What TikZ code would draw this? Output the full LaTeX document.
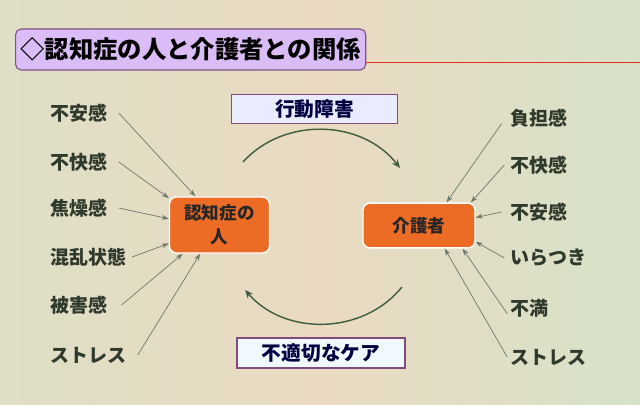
\documentclass[tikz,border=0pt]{standalone}
\usepackage{fontspec}
\setmainfont{Noto Sans CJK JP}
\usetikzlibrary{arrows.meta}

\definecolor{slidebg}{RGB}{234,218,194}
\definecolor{slidegreen}{RGB}{214,226,200}
\definecolor{labeltext}{RGB}{48,58,44}
\definecolor{arrowgray}{RGB}{110,120,105}
\definecolor{titlefill}{RGB}{218,188,246}
\definecolor{boxorange}{RGB}{236,108,38}

\tikzset{
  feeling/.style={anchor=west, text=labeltext, font=\fontsize{13.5}{15}\selectfont\bfseries, inner sep=0pt},
  feed/.style={draw=arrowgray, line width=0.5pt, -{Stealth[length=5pt,width=3.5pt]}},
  actor/.style={draw=white, line width=1pt, fill=boxorange, rounded corners=5pt, align=center,
    text=black!85, font=\fontsize{12.5}{17}\selectfont\bfseries},
  relation/.style={draw=violet!40!gray, line width=0.8pt, align=center, text=blue!25!black,
    font=\fontsize{14}{16}\selectfont\bfseries},
  cycle/.style={draw=green!15!black!75, line width=1pt, -{Stealth[length=6pt,width=5pt]}}
}

\begin{document}
\begin{tikzpicture}[x=0.025cm, y=-0.025cm]
      % Slide background
      \useasboundingbox (0,0) rectangle (640,405);
      \shade[left color=slidegreen!60!slidebg, right color=slidegreen, middle color=slidebg]
        (0,0) rectangle (640,405);

      % Title
      \node[draw=violet!35!gray, line width=0.8pt, fill=titlefill, rounded corners=4pt,
        inner xsep=3.5pt, inner ysep=0pt, anchor=west, minimum height=1.025cm,
        font=\fontsize{17.3}{20}\selectfont\bfseries] (title) at (15,49.5)
        {◇認知症の人と介護者との関係};
      \coordinate (rule end) at (640,62);
      \draw[red!60!brown, line width=0.5pt] (title.east |- rule end) -- (rule end);

      % The two people
      \node[actor, minimum width=2.5cm, minimum height=1.4cm] (person) at (219.5,225)
        {認知症の\\人};
      \node[actor, minimum width=2.8cm, minimum height=1.12cm] (carer) at (419,225.5)
        {介護者};

      % What passes between them
      \node[relation, fill=blue!8!white, minimum width=4.15cm, minimum height=0.7cm] (behaviour)
        at (314.5,109) {行動障害};
      \node[relation, fill=cyan!6!white, minimum width=4.2cm, minimum height=0.75cm] (care)
        at (321,353) {不適切なケア};
      \coordinate (top from) at (243,162);
      \coordinate (top to) at (400,168);
      \coordinate (low from) at (402,287);
      \coordinate (low to) at (245,290);
      \draw[cycle] (top from) to[bend left=50] (top to);
      \draw[cycle] (low from) to[bend left=50] (low to);

      % Feelings of the person with dementia
      \node[feeling] (p1) at (50,113) {不安感};
      \node[feeling] (p2) at (50,162) {不快感};
      \node[feeling] (p3) at (50,208) {焦燥感};
      \node[feeling] (p4) at (50,257) {混乱状態};
      \node[feeling] (p5) at (50,305) {被害感};
      \node[feeling] (p6) at (50,355) {ストレス};
      \draw[feed] ([xshift=8pt]p1.east) -- (person.130);
      \draw[feed] ([xshift=8pt]p2.east) -- (person.152);
      \draw[feed] ([xshift=8pt]p3.east) -- (person.173);
      \draw[feed] ([xshift=4pt]p4.east) -- (person.200);
      \draw[feed] ([xshift=10pt]p5.east) -- (person.218);
      \draw[feed] ([xshift=8pt]p6.east) -- (person.236);

      % Feelings of the carer
      \node[feeling] (c1) at (510,118) {負担感};
      \node[feeling] (c2) at (510,165) {不快感};
      \node[feeling] (c3) at (510,212) {不安感};
      \node[feeling] (c4) at (510,258) {いらつき};
      \node[feeling] (c5) at (510,308) {不満};
      \node[feeling] (c6) at (510,357) {ストレス};
      \draw[feed] ([xshift=-6pt,yshift=-4pt]c1.west) -- (carer.40);
      \draw[feed] ([xshift=-4pt]c2.west) -- (carer.24);
      \draw[feed] ([xshift=-6pt]c3.west) -- (carer.8);
      \draw[feed] ([xshift=-4pt]c4.west) -- (carer.344);
      \draw[feed] ([xshift=-2pt,yshift=-4pt]c5.west) -- (carer.332);
      \draw[feed] ([xshift=-2pt]c6.west) -- (carer.318);
  \end{tikzpicture}
\end{document}
